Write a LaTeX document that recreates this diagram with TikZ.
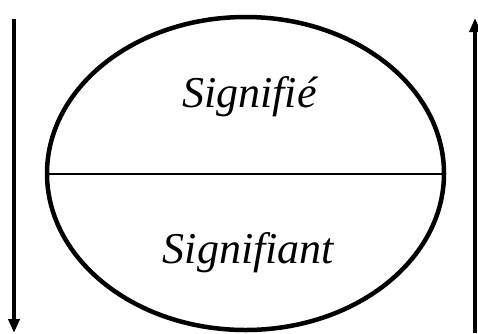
\documentclass[tikz,border=0pt]{standalone}
\usepackage{fontspec}
\setmainfont{Liberation Serif}
\usetikzlibrary{arrows.meta,shapes.geometric}
\begin{document}
\begin{tikzpicture}[x=1pt,y=-1pt,
  lbl/.style={font=\fontsize{44}{50}\selectfont\itshape, anchor=base, inner sep=0pt},
  arr/.style={line width=3.5pt, -{Triangle[width=11pt,length=14pt]}}]
\useasboundingbox (0,0) rectangle (478,333);
\node[ellipse, draw, line width=4.5pt, minimum width=397pt, minimum height=313pt, inner sep=0pt] (e) at (245.5,173.5) {};
\draw[line width=2pt] (e.west) -- (e.east);
\node[lbl] (sig) at (249.5,107) {Signifié};
\node[lbl] (sigt) at (248.5,263) {Signifiant};
\coordinate (la) at (14,19);
\coordinate (lb) at (14,333);
\coordinate (ra) at (475,333);
\coordinate (rb) at (475,18);
\draw[arr] (la) -- (lb);
\draw[arr] (ra) -- (rb);
\end{tikzpicture}
\end{document}
